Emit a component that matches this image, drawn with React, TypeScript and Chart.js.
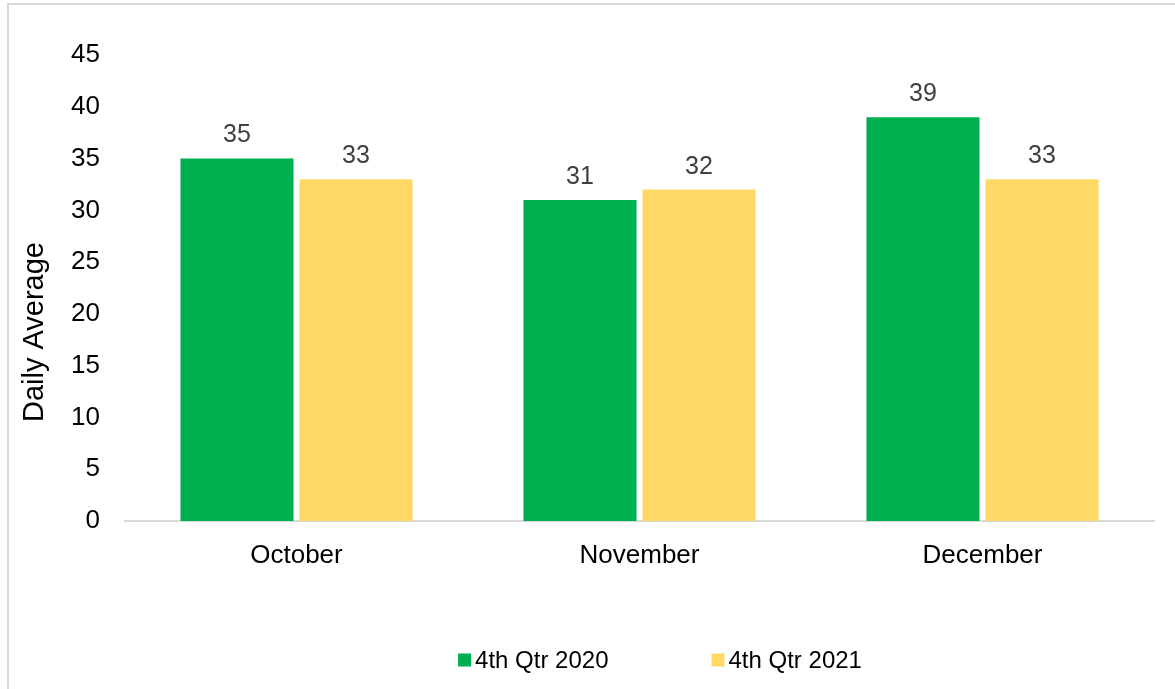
import React, { useEffect, useRef } from "react";
import { Chart, registerables } from "chart.js";

Chart.register(...registerables);

const categories = ["October", "November", "December"];
const seriesNames = ["4th Qtr 2020", "4th Qtr 2021"];
const values2020 = [35, 31, 39];
const values2021 = [33, 32, 33];
const yMin = 0;
const yMax = 45;
const yStep = 5;
const yTitle = "Daily Average";

const FONT = '"Liberation Sans", Arial, sans-serif';
const GREEN = "#00B050";
const YELLOW = "#FFD966";

const dataLabelPlugin = {
  id: "dataLabels",
  afterDatasetsDraw(chart: any) {
    const ctx = chart.ctx;
    ctx.save();
    ctx.font = `25px ${FONT}`;
    ctx.fillStyle = "#404040";
    ctx.textAlign = "center";
    ctx.textBaseline = "middle";
    chart.data.datasets.forEach((ds: any, di: number) => {
      const meta = chart.getDatasetMeta(di);
      meta.data.forEach((el: any, i: number) => {
        ctx.fillText(String(ds.data[i]), el.x, el.y - 23);
      });
    });
    ctx.restore();
  },
};

const yTitlePlugin = {
  id: "yTitle",
  afterDraw(chart: any) {
    const ctx = chart.ctx;
    ctx.save();
    ctx.font = `29px ${FONT}`;
    ctx.fillStyle = "#000000";
    ctx.textAlign = "center";
    ctx.textBaseline = "alphabetic";
    ctx.translate(43, 332);
    ctx.rotate(-Math.PI / 2);
    ctx.fillText(yTitle, 0, 0);
    ctx.restore();
  },
};

const bottomLegendPlugin = {
  id: "bottomLegend",
  afterDraw(chart: any) {
    const ctx = chart.ctx;
    ctx.save();
    ctx.font = `24px ${FONT}`;
    ctx.textBaseline = "middle";
    ctx.textAlign = "left";
    const box = 13;
    const textGap = 4;
    const itemGap = 103;
    const items = chart.data.datasets.map((ds: any) => ({
      label: ds.label,
      color: ds.backgroundColor,
      w: box + textGap + ctx.measureText(ds.label).width,
    }));
    const total =
      items.reduce((s: number, it: any) => s + it.w, 0) + itemGap * (items.length - 1);
    const centerX = 660;
    const y = 660;
    let x = centerX - total / 2;
    items.forEach((it: any) => {
      ctx.fillStyle = it.color;
      ctx.fillRect(x, y - box / 2, box, box);
      ctx.fillStyle = "#000000";
      ctx.fillText(it.label, x + box + textGap, y + 1);
      x += it.w + itemGap;
    });
    ctx.restore();
  },
};

function BarChart() {
  const canvasRef = useRef<HTMLCanvasElement | null>(null);

  useEffect(() => {
    if (!canvasRef.current) return;
    const chart = new Chart(canvasRef.current, {
      type: "bar",
      data: {
        labels: categories,
        datasets: [
          {
            label: seriesNames[0],
            data: values2020,
            backgroundColor: GREEN,
            barPercentage: 0.95,
            categoryPercentage: 0.694,
          },
          {
            label: seriesNames[1],
            data: values2021,
            backgroundColor: YELLOW,
            barPercentage: 0.95,
            categoryPercentage: 0.694,
          },
        ],
      },
      options: {
        responsive: false,
        animation: false,
        layout: { padding: { left: 17, right: 21, top: 55, bottom: 108 } },
        plugins: {
          legend: { display: false },
          tooltip: { enabled: false },
          title: { display: false },
        },
        scales: {
          x: {
            grid: { display: false, drawTicks: false },
            border: { display: true, color: "#D9D9D9", width: 2 },
            ticks: {
              color: "#000000",
              font: { family: FONT, size: 26 },
              padding: 19,
              maxRotation: 0,
            },
            afterFit(scale: any) {
              scale.height = 60;
            },
          },
          y: {
            min: yMin,
            max: yMax,
            grid: { display: false, drawTicks: false },
            border: { display: false },
            ticks: {
              stepSize: yStep,
              color: "#000000",
              font: { family: FONT, size: 26 },
              padding: 25,
            },
            title: { display: false, text: yTitle },
            afterFit(scale: any) {
              scale.width = 108;
            },
          },
        },
      },
      plugins: [dataLabelPlugin, yTitlePlugin, bottomLegendPlugin],
    });
    return () => chart.destroy();
  }, []);

  return (
    <canvas
      ref={canvasRef}
      width={1175}
      height={689}
      style={{ display: "block", position: "absolute", left: 0, top: 0 }}
    />
  );
}

export default function App() {
  return (
    <div
      style={{
        position: "absolute",
        left: 0,
        top: 0,
        width: 1175,
        height: 689,
        overflow: "hidden",
        background: "#ffffff",
      }}
    >
      <div
        style={{
          position: "absolute",
          left: 7,
          top: 3,
          width: 1300,
          height: 800,
          borderLeft: "2px solid #D9D9D9",
          borderTop: "2px solid #D9D9D9",
        }}
      />
      <BarChart />
    </div>
  );
}
